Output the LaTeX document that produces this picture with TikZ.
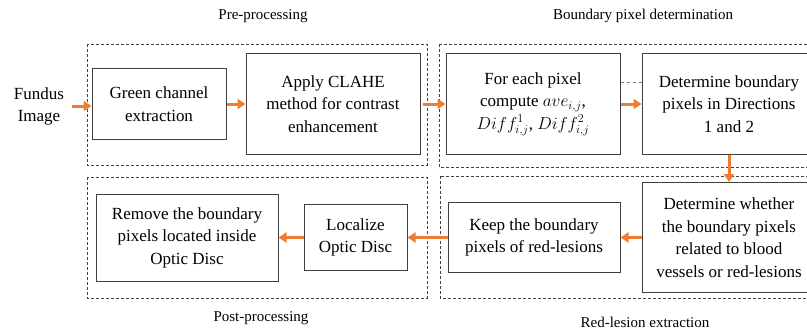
\documentclass[tikz,border=0pt]{standalone}
\usepackage{fontspec}
\setmainfont{Liberation Serif}
\usetikzlibrary{positioning, arrows.meta}
\definecolor{FlowOrange}{HTML}{ED7D31}
\definecolor{BoxGray}{HTML}{3F3F3F}

\begin{document}
\begin{tikzpicture}[x = 1pt, y = -1pt, node distance = 19pt]%
    %
    \tikzstyle{arrow} = [-{Triangle[length = 8pt, width = 10pt]}, draw = FlowOrange, line width = 3pt]%
    \tikzstyle{block} = [rectangle, draw = BoxGray, line width = 1pt, align = center, inner sep = 0pt, font = \fontsize{17}{22.5}\selectfont]%
    \tikzstyle{stage} = [draw = BoxGray, dash pattern = on 3pt off 2pt, line width = 0.7pt]%
    \tikzstyle{caption} = [font = \fontsize{15}{18}\selectfont]%
    %
    \useasboundingbox (0,0) rectangle (807,333);%
    %
    \draw [stage] (87,44) rectangle (427,165);%
    \draw [stage] (439,44) rectangle (840,167);%
    \draw [stage] (87,177) rectangle (427,298);%
    \draw [stage] (440,176) rectangle (840,298);%
    %
    \node [caption] (pre-label) at (263,16) {Pre-processing};%
    \node [caption] (boundary-label) at (643,16) {Boundary pixel determination};%
    \node [caption] (post-label) at (261,318) {Post-processing};%
    \node [caption] (red-label) at (645,322) {Red-lesion extraction};%
    %
    \node [align = center, font = \fontsize{17}{22}\selectfont] (fundus) at (39,106) {Fundus\\Image};%
    \node [block, minimum width = 134pt, minimum height = 71pt] (green-channel) at (159,104) {Green channel\\extraction};%
    \node [block, minimum width = 174pt, minimum height = 101pt, right = 19pt of green-channel] (clahe) {Apply CLAHE\\method for contrast\\enhancement};%
    \node [block, minimum width = 174pt, minimum height = 101pt, right = 25pt of clahe] (each-pixel) {For each pixel\\compute $ave_{i,j}$,\\$Diff^{1}_{i,j}$, $Diff^{2}_{i,j}$};%
    \node [block, minimum width = 174pt, minimum height = 101pt, right = 21pt of each-pixel] (directions) {Determine boundary\\pixels in Directions\\1 and 2};%
    \node [block, minimum width = 174pt, minimum height = 110pt, below = 27pt of directions] (whether) {Determine whether\\the boundary pixels\\related to blood\\vessels or red-lesions};%
    \node [block, minimum width = 172pt, minimum height = 70pt, left = 21pt of whether] (keep) {Keep the boundary\\pixels of red-lesions};%
    \node [block, minimum width = 103pt, minimum height = 66pt, left = 40pt of keep] (localize) {Localize\\Optic Disc};%
    \node [block, minimum width = 182pt, minimum height = 87pt, left = 25pt of localize] (remove) {Remove the boundary\\pixels located inside\\Optic Disc};%
    %
    \path [arrow] ([xshift = 4pt]fundus.east) -- (green-channel.west |- fundus.east);%
    \path [arrow] (green-channel) -- (clahe);%
    \path [arrow] ([xshift = 2pt]clahe.east) -- (each-pixel);%
    \path [arrow] (each-pixel) -- (directions);%
    \draw [gray, dashed, thin] ([yshift = 22pt]each-pixel.east) -- ([yshift = 22pt]directions.west);%
    \path [arrow] (directions) -- (whether);%
    \path [arrow] (whether) -- (keep);%
    \path [arrow] (keep) -- (localize);%
    \path [arrow] (localize) -- (remove);%
    %
\end{tikzpicture}
\end{document}
